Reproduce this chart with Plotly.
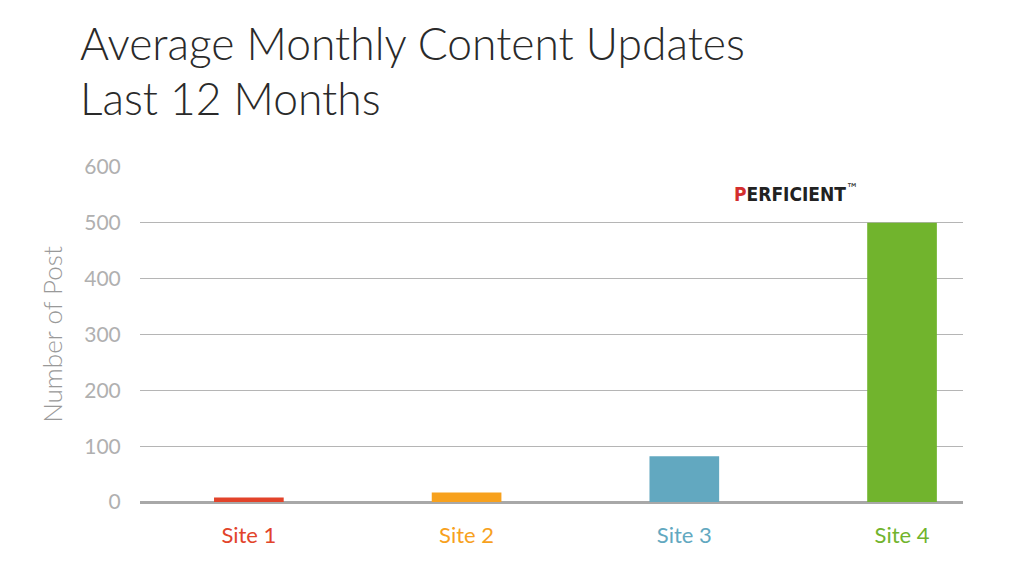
import plotly.graph_objects as go

sites = ["Site 1", "Site 2", "Site 3", "Site 4"]
posts = [8, 17, 82, 500]
colors = ["#e2432a", "#f7a11d", "#62a8c0", "#71b42d"]
y_ticks = [0, 100, 200, 300, 400, 500, 600]
title_lines = ["Average Monthly Content Updates", "Last 12 Months"]

fig = go.Figure()
fig.add_trace(go.Bar(x=list(range(len(sites))), y=posts, marker=dict(color=colors, line=dict(width=0)),
                     width=0.32, hoverinfo="skip"))

fig.update_layout(
    width=1024, height=576,
    margin=dict(l=132, r=69, t=159, b=82),
    paper_bgcolor="white", plot_bgcolor="white",
    showlegend=False,
    font=dict(family="Lato", color="#aaaaaa"),
    xaxis=dict(
        range=[-0.5, 3.28],
        tickmode="array",
        tickvals=list(range(len(sites))),
        ticktext=[f"<span style='color:{c}'>{s}</span>" for s, c in zip(sites, colors)],
        tickfont=dict(size=22, family="Lato"),
        showgrid=False, zeroline=False, showline=False,
        ticks="outside", ticklen=14, tickcolor="rgba(0,0,0,0)",
    ),
    yaxis=dict(
        range=[0, 600],
        tickmode="array", tickvals=y_ticks,
        tickfont=dict(size=21, color="#b0b0b0", family="Lato"),
        showgrid=True, gridcolor="#b5b5b5", gridwidth=1,
        zeroline=True, zerolinecolor="#a8a8a8", zerolinewidth=3,
        showline=False,
        ticks="outside", ticklen=14, tickcolor="rgba(0,0,0,0)",
        title=dict(text="Number of Post", font=dict(size=26, color="#999999", family="Lato", weight=300), standoff=14),
    ),
)

for i, (line, yp) in enumerate(zip(title_lines, [1.373, 1.206])):
    fig.add_annotation(
        x=-0.0755, y=yp, xref="paper", yref="paper", xanchor="left", yanchor="middle",
        text=line, showarrow=False,
        font=dict(family="Lato", size=44.4, color="#2a2a2a", weight=300),
    )

fig.add_annotation(
    x=0.797, y=0.922, xref="paper", yref="paper", xanchor="center", yanchor="middle",
    text="<span style='color:#d42e2e'><b>P</b></span><b>ERFICIENT</b><sup style='font-size:7px'>™</sup>",
    showarrow=False, font=dict(family="DejaVu Sans Condensed", size=19, color="#222222"),
)

fig.write_html("out.html")
